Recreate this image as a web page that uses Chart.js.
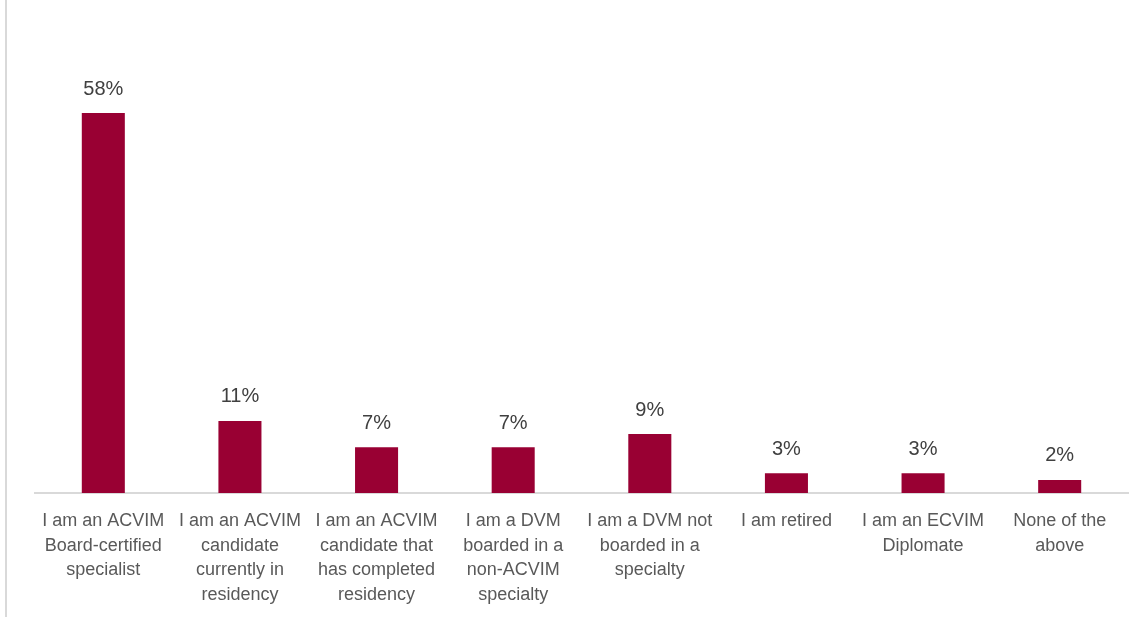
<!DOCTYPE html>
<html>
<head>
<meta charset="utf-8">
<script src="https://cdn.jsdelivr.net/npm/chart.js@4/dist/chart.umd.min.js"></script>
<style>
  html, body { margin: 0; padding: 0; background: #fff; }
  #wrap { width: 1144px; height: 617px; position: relative; }
</style>
</head>
<body>
<div id="wrap"><canvas id="chart"></canvas></div>
<script>
// categories (multi-line as shown under each bar)
const categories = [
    ['I am an ACVIM', 'Board-certified', 'specialist'],
    ['I am an ACVIM', 'candidate', 'currently in', 'residency'],
    ['I am an ACVIM', 'candidate that', 'has completed', 'residency'],
    ['I am a DVM', 'boarded in a', 'non-ACVIM', 'specialty'],
    ['I am a DVM not', 'boarded in a', 'specialty'],
    ['I am retired'],
    ['I am an ECVIM', 'Diplomate'],
    ['None of the', 'above']
];
const percents = [58, 11, 7, 7, 9, 3, 3, 2];

const FONT = "'Liberation Sans Narrow', 'Arial Narrow', 'Liberation Sans', sans-serif";

// value labels above bars + page border on the left
const extras = {
    id: 'extras',
    beforeDraw(chart) {
        const ctx = chart.ctx;
        ctx.save();
        ctx.fillStyle = '#d9d9d9';
        ctx.fillRect(5, 0, 2, chart.height);
        ctx.restore();
    },
    afterDatasetsDraw(chart) {
        const ctx = chart.ctx;
        const meta = chart.getDatasetMeta(0);
        ctx.save();
        ctx.font = '20px ' + FONT;
        ctx.fillStyle = '#404040';
        ctx.textAlign = 'center';
        ctx.textBaseline = 'bottom';
        meta.data.forEach((bar, i) => {
            ctx.fillText(percents[i] + '%', bar.x, bar.y - 14);
        });
        ctx.restore();
    }
};

new Chart(document.getElementById('chart'), {
    type: 'bar',
    data: {
        labels: categories,
        datasets: [{
            data: percents,
            backgroundColor: '#990033',
            barPercentage: 0.315,
            categoryPercentage: 1
        }]
    },
    options: {
        responsive: true,
        maintainAspectRatio: false,
        animation: false,
        layout: { padding: { left: 35, right: 16, top: 100, bottom: 0 } },
        plugins: {
            legend: { display: false },
            tooltip: { enabled: false }
        },
        scales: {
            x: {
                grid: { display: false },
                border: { display: true, color: '#d9d9d9', width: 2 },
                ticks: {
                    color: '#595959',
                    font: { family: FONT, size: 18, lineHeight: 1.36 },
                    padding: 8,
                    maxRotation: 0,
                    autoSkip: false
                },
                afterFit(scale) { scale.height = 124; }
            },
            y: {
                display: false,
                min: 0,
                max: 60
            }
        }
    },
    plugins: [extras]
});
</script>
</body>
</html>
